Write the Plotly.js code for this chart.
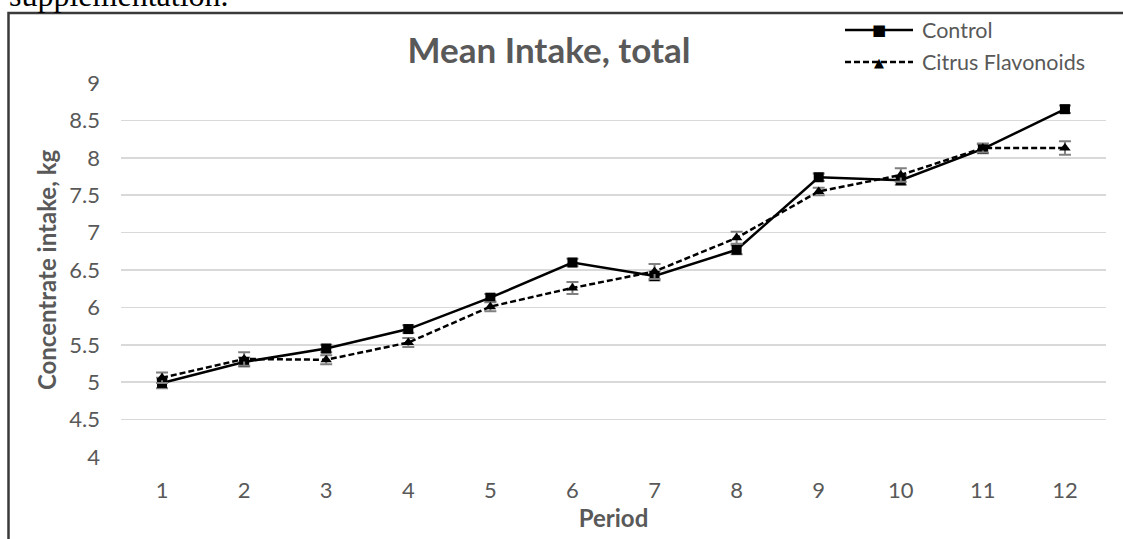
<!DOCTYPE html>
<html>
<head>
<meta charset="utf-8">
<script src="https://cdn.plot.ly/plotly-3.0.1.min.js"></script>
<style>html,body{margin:0;padding:0;background:#fff;}#chart{width:1123px;height:539px;}</style>
</head>
<body>
<div id="chart"></div>
<script>
const periods = [1,2,3,4,5,6,7,8,9,10,11,12];
const controlMean = [4.99,5.27,5.45,5.71,6.13,6.60,6.42,6.77,7.74,7.70,8.12,8.65];
const controlErr  = [0.07,0.06,0.05,0.05,0.05,0.05,0.06,0.06,0.05,0.06,0.06,0.05];
const citrusMean  = [5.06,5.31,5.30,5.53,6.01,6.26,6.48,6.93,7.55,7.77,8.13,8.13];
const citrusErr   = [0.07,0.09,0.06,0.06,0.06,0.08,0.10,0.08,0.05,0.09,0.06,0.09];
const yTicks = [4,4.5,5,5.5,6,6.5,7,7.5,8,8.5,9];

const grey = '#595959';
const F = 'Lato, "Open Sans", sans-serif';

const traces = [
  {x: periods, y: controlMean, name: 'Control', type: 'scatter', mode: 'lines+markers',
   line: {color: '#000', width: 2.5},
   marker: {symbol: 'square', size: 10, color: '#000'},
   error_y: {type: 'data', array: controlErr, visible: true, color: '#808080', thickness: 2, width: 6}},
  {x: periods, y: citrusMean, name: 'Citrus Flavonoids', type: 'scatter', mode: 'lines+markers',
   line: {color: '#000', width: 2.5, dash: '6px,3px'},
   marker: {symbol: 'triangle-up', size: 10, color: '#000'},
   error_y: {type: 'data', array: citrusErr, visible: true, color: '#808080', thickness: 2, width: 6}}
];

// pixel helpers for decoration (plot area 121..1106 x, 83..457 y)
const px = p => (p - 121) / 985;
const py = p => (457 - p) / 374;

const layout = {
  width: 1123, height: 539,
  margin: {l: 121, r: 17, t: 83, b: 82},
  paper_bgcolor: '#fff', plot_bgcolor: '#fff',
  showlegend: false,
  font: {family: F, color: grey, size: 22},
  title: {text: '<b>Mean Intake, total</b>', font: {family: F, size: 35, color: grey},
          xref: 'container', x: 549/1123, xanchor: 'center',
          yref: 'container', y: 1 - 51/539, yanchor: 'middle'},
  xaxis: {range: [0.5, 12.5], tickvals: periods, ticktext: periods.map(String),
          showgrid: false, zeroline: false, showline: false, ticks: '',
          ticklabelstandoff: 18,
          tickfont: {family: F, size: 22, color: grey},
          title: {text: '<b>Period</b>', font: {family: F, size: 24, color: grey}, standoff: 6}},
  yaxis: {range: [4, 9], tickvals: yTicks, showgrid: true, gridcolor: '#d9d9d9', gridwidth: 1.6,
          zeroline: false, showline: false, ticks: '', ticklabelstandoff: 20,
          tickfont: {family: F, size: 22, color: grey},
          title: {text: '<b>Concentrate intake, kg</b>', font: {family: F, size: 24, color: grey}, standoff: 5}},
  shapes: [
    {type: 'path', xref: 'paper', yref: 'paper',
     path: `M ${px(8.5)} ${py(560)} L ${px(8.5)} ${py(13)} L ${px(1140)} ${py(13)}`,
     line: {color: '#3a3a3a', width: 2.5}},
    {type: 'line', xref: 'paper', yref: 'paper', x0: px(845), x1: px(913), y0: py(30), y1: py(30),
     line: {color: '#000', width: 2.5}},
    {type: 'line', xref: 'paper', yref: 'paper', x0: px(845), x1: px(913), y0: py(62), y1: py(62),
     line: {color: '#000', width: 2.5, dash: '6px,3px'}}
  ],
  annotations: [
    {text: 'supplementation.', xref: 'paper', yref: 'paper', x: px(7), y: py(15), xanchor: 'left', yanchor: 'bottom',
     showarrow: false, font: {family: '"Liberation Serif", "Times New Roman", serif', size: 32, color: '#000'}},
    {text: '■', xref: 'paper', yref: 'paper', x: px(879), y: py(30), xanchor: 'center', yanchor: 'middle',
     showarrow: false, font: {family: 'DejaVu Sans', size: 15, color: '#000'}},
    {text: '▲', xref: 'paper', yref: 'paper', x: px(879), y: py(62), xanchor: 'center', yanchor: 'middle',
     showarrow: false, font: {family: 'DejaVu Sans', size: 13, color: '#000'}},
    {text: 'Control', xref: 'paper', yref: 'paper', x: px(920), y: py(30), xanchor: 'left', yanchor: 'middle',
     showarrow: false, font: {family: F, size: 21.5, color: grey}},
    {text: 'Citrus Flavonoids', xref: 'paper', yref: 'paper', x: px(920), y: py(62), xanchor: 'left', yanchor: 'middle',
     showarrow: false, font: {family: F, size: 21.5, color: grey}}
  ]
};

Plotly.newPlot('chart', traces, layout, {displayModeBar: false, staticPlot: true});
</script>
</body>
</html>
